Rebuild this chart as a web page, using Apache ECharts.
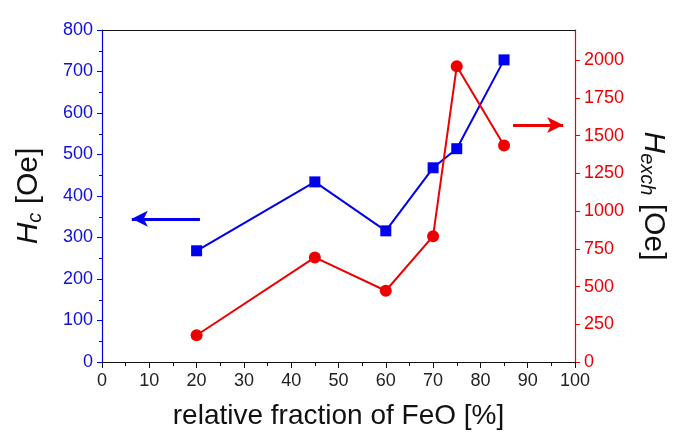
<!DOCTYPE html>
<html><head><meta charset="utf-8">
<script src="https://cdn.jsdelivr.net/npm/echarts@6/dist/echarts.min.js"></script>
<style>html,body{margin:0;padding:0;background:#fff}#c{width:685px;height:441px}</style>
</head><body><div id="c"></div>
<script>
const fractionFeO = [20, 45, 60, 70, 75, 85];
const hcValues = [268, 434, 316, 468, 514, 728];
const hexchValues = [177, 693, 472, 834, 1960, 1435];
const xTitle = 'relative fraction of FeO [%]';

const blue = '#0000ee';
const red = '#ee0000';
const font = 'Liberation Sans, Arial, sans-serif';
const plain = v => String(v);

const chart = echarts.init(document.getElementById('c'));
chart.setOption({
  animation: false,
  backgroundColor: '#fff',
  grid: {left: 102, right: 110, top: 30, bottom: 79},
  xAxis: [{
    type: 'value', min: 0, max: 100, interval: 10,
    name: xTitle, nameLocation: 'middle', nameGap: 40,
    nameTextStyle: {fontSize: 28, color: '#111', fontFamily: font},
    axisLine: {onZero: false, lineStyle: {color: '#111', width: 1.2}},
    axisTick: {show: true, inside: false, length: 6, lineStyle: {color: '#111'}},
    minorTick: {show: true, splitNumber: 2, length: 4, lineStyle: {color: '#111'}},
    axisLabel: {fontSize: 18, color: '#222', fontFamily: font, margin: 10, formatter: plain},
    splitLine: {show: false}
  }, {
    type: 'value', min: 0, max: 100, position: 'top',
    axisLine: {show: true, onZero: false, lineStyle: {color: '#111', width: 1.2}},
    axisTick: {show: false}, axisLabel: {show: false}, splitLine: {show: false}
  }],
  yAxis: [{
    type: 'value', min: 0, max: 800, interval: 100, position: 'left',
    name: '{i|H}{s|c}{n| [Oe]}', nameLocation: 'middle', nameGap: 57, nameRotate: 90,
    nameTextStyle: {
      color: '#111', fontFamily: font, fontSize: 30,
      rich: {
        i: {fontStyle: 'italic', fontSize: 30, fontFamily: font, color: '#111'},
        s: {fontStyle: 'italic', fontSize: 20, fontFamily: font, color: '#111', padding: [12, 0, 0, 0]},
        n: {fontSize: 30, fontFamily: font, color: '#111'}
      }
    },
    axisLine: {show: true, onZero: false, lineStyle: {color: blue, width: 1.2}},
    axisTick: {show: true, inside: false, length: 5, lineStyle: {color: blue}},
    minorTick: {show: true, splitNumber: 2, length: 3, lineStyle: {color: blue}},
    axisLabel: {fontSize: 18, color: '#1010dd', fontFamily: font, margin: 9, formatter: plain},
    splitLine: {show: false}
  }, {
    type: 'value', min: 0, max: 2200, interval: 250, position: 'right',
    name: '{i|H}{s|exch}{n| [Oe]}', nameLocation: 'middle', nameGap: 62, nameRotate: -90,
    nameTextStyle: {
      color: '#111', fontFamily: font, fontSize: 30,
      rich: {
        i: {fontStyle: 'italic', fontSize: 30, fontFamily: font, color: '#111'},
        s: {fontStyle: 'italic', fontSize: 20, fontFamily: font, color: '#111', padding: [12, 0, 0, 0]},
        n: {fontSize: 30, fontFamily: font, color: '#111'}
      }
    },
    axisLine: {show: true, onZero: false, lineStyle: {color: red, width: 1.2}},
    axisTick: {show: true, inside: false, length: 5, lineStyle: {color: red}},
    axisLabel: {fontSize: 18, color: red, fontFamily: font, margin: 9, showMaxLabel: false, formatter: plain},
    splitLine: {show: false}
  }],
  series: [{
    name: 'Hc', type: 'line', xAxisIndex: 0, yAxisIndex: 0,
    data: fractionFeO.map((x, i) => [x, hcValues[i]]),
    symbol: 'rect', symbolSize: 11,
    lineStyle: {color: blue, width: 2}, itemStyle: {color: blue},
    markLine: {
      silent: true, symbol: ['none', 'arrow'], symbolSize: [12, 16],
      lineStyle: {color: blue, width: 3, type: 'solid'}, label: {show: false},
      data: [[{coord: [20.7, 345]}, {coord: [6.3, 345]}]]
    }
  }, {
    name: 'Hexch', type: 'line', xAxisIndex: 0, yAxisIndex: 1,
    data: fractionFeO.map((x, i) => [x, hexchValues[i]]),
    symbol: 'circle', symbolSize: 12,
    lineStyle: {color: red, width: 2}, itemStyle: {color: red},
    markLine: {
      silent: true, symbol: ['none', 'arrow'], symbolSize: [12, 16],
      lineStyle: {color: red, width: 3, type: 'solid'}, label: {show: false},
      data: [[{coord: [86.9, 1570]}, {coord: [97.5, 1570]}]]
    }
  }]
});
</script></body></html>
